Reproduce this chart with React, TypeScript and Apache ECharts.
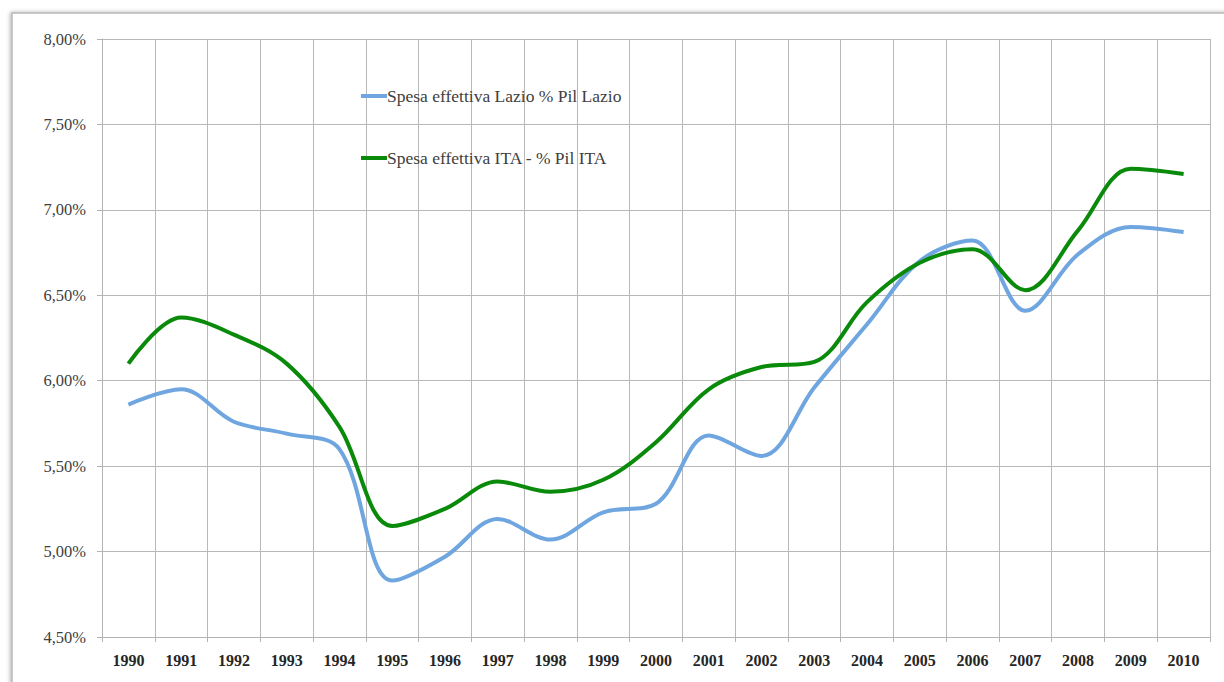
import React, { useEffect, useRef } from "react";
import * as echarts from "echarts";

const years = ["1990","1991","1992","1993","1994","1995","1996","1997","1998","1999","2000","2001","2002","2003","2004","2005","2006","2007","2008","2009","2010"];
const lazio = [5.86,5.95,5.76,5.69,5.60,4.83,4.97,5.19,5.07,5.23,5.28,5.68,5.56,5.96,6.33,6.70,6.82,6.41,6.74,6.90,6.87];
const italia = [6.10,6.37,6.27,6.10,5.73,5.15,5.25,5.41,5.35,5.42,5.64,5.95,6.08,6.11,6.46,6.69,6.77,6.53,6.88,7.24,7.21];
const seriesNames = ["Spesa effettiva Lazio % Pil Lazio", "Spesa effettiva ITA - % Pil ITA"];
const colors = ["#6fa6e0", "#0a8a0a"];

export default function App() {
  const ref = useRef<HTMLDivElement>(null);
  useEffect(() => {
    if (!ref.current) return;
    const chart = echarts.init(ref.current, undefined, { renderer: "svg" });
    const font = "'Liberation Serif', 'DejaVu Serif', serif";
    chart.setOption({
      animation: false,
      backgroundColor: "#ffffff",
      graphic: [
        {
          type: "rect",
          shape: { x: 12, y: 13, width: 1240, height: 700 },
          style: { fill: "#ffffff", stroke: "#b8b8b8", lineWidth: 1.5, shadowBlur: 4, shadowColor: "rgba(0,0,0,0.3)", shadowOffsetX: -1, shadowOffsetY: 0 },
          z: -10,
          silent: true,
        },
      ],
      grid: { left: 102, right: 14, top: 39, bottom: 45, containLabel: false },
      legend: {
        orient: "vertical",
        left: 356,
        top: 82,
        itemGap: 44,
        itemWidth: 26,
        itemHeight: 4,
        icon: "rect",
        data: seriesNames,
        textStyle: { fontFamily: font, fontSize: 17.5, color: "#404040", padding: [0, 0, 0, -5] },
      },
      xAxis: {
        type: "category",
        data: years,
        boundaryGap: true,
        axisLine: { show: true, lineStyle: { color: "#b3b3b3", width: 1 } },
        axisTick: { show: true, length: 5, interval: 0, lineStyle: { color: "#b3b3b3" } },
        splitLine: { show: true, interval: 0, lineStyle: { color: "#b8b8b8", width: 1 } },
        axisLabel: { interval: 0, margin: 15, fontFamily: font, fontSize: 16, fontWeight: "bold", color: "#262626" },
      },
      yAxis: {
        type: "value",
        min: 4.5,
        max: 8,
        interval: 0.5,
        axisLine: { show: true, lineStyle: { color: "#b3b3b3", width: 1 } },
        axisTick: { show: true, length: 5, lineStyle: { color: "#b3b3b3" } },
        splitLine: { show: true, lineStyle: { color: "#b8b8b8", width: 1 } },
        axisLabel: {
          margin: 16,
          fontFamily: font,
          fontSize: 16.5,
          color: "#404040",
          formatter: (v: number) => v.toFixed(2).replace(".", ",") + "%",
        },
      },
      series: [
        {
          name: seriesNames[0],
          type: "line",
          data: lazio,
          smooth: 0.35,
          showSymbol: false,
          symbol: "none",
          lineStyle: { color: colors[0], width: 4 },
          itemStyle: { color: colors[0] },
        },
        {
          name: seriesNames[1],
          type: "line",
          data: italia,
          smooth: 0.35,
          showSymbol: false,
          symbol: "none",
          lineStyle: { color: colors[1], width: 4 },
          itemStyle: { color: colors[1] },
        },
      ],
    });
    return () => chart.dispose();
  }, []);
  return (
    <div
      ref={ref}
      style={{ position: "fixed", left: 0, top: 0, width: 1224, height: 682, background: "#fff" }}
    />
  );
}
